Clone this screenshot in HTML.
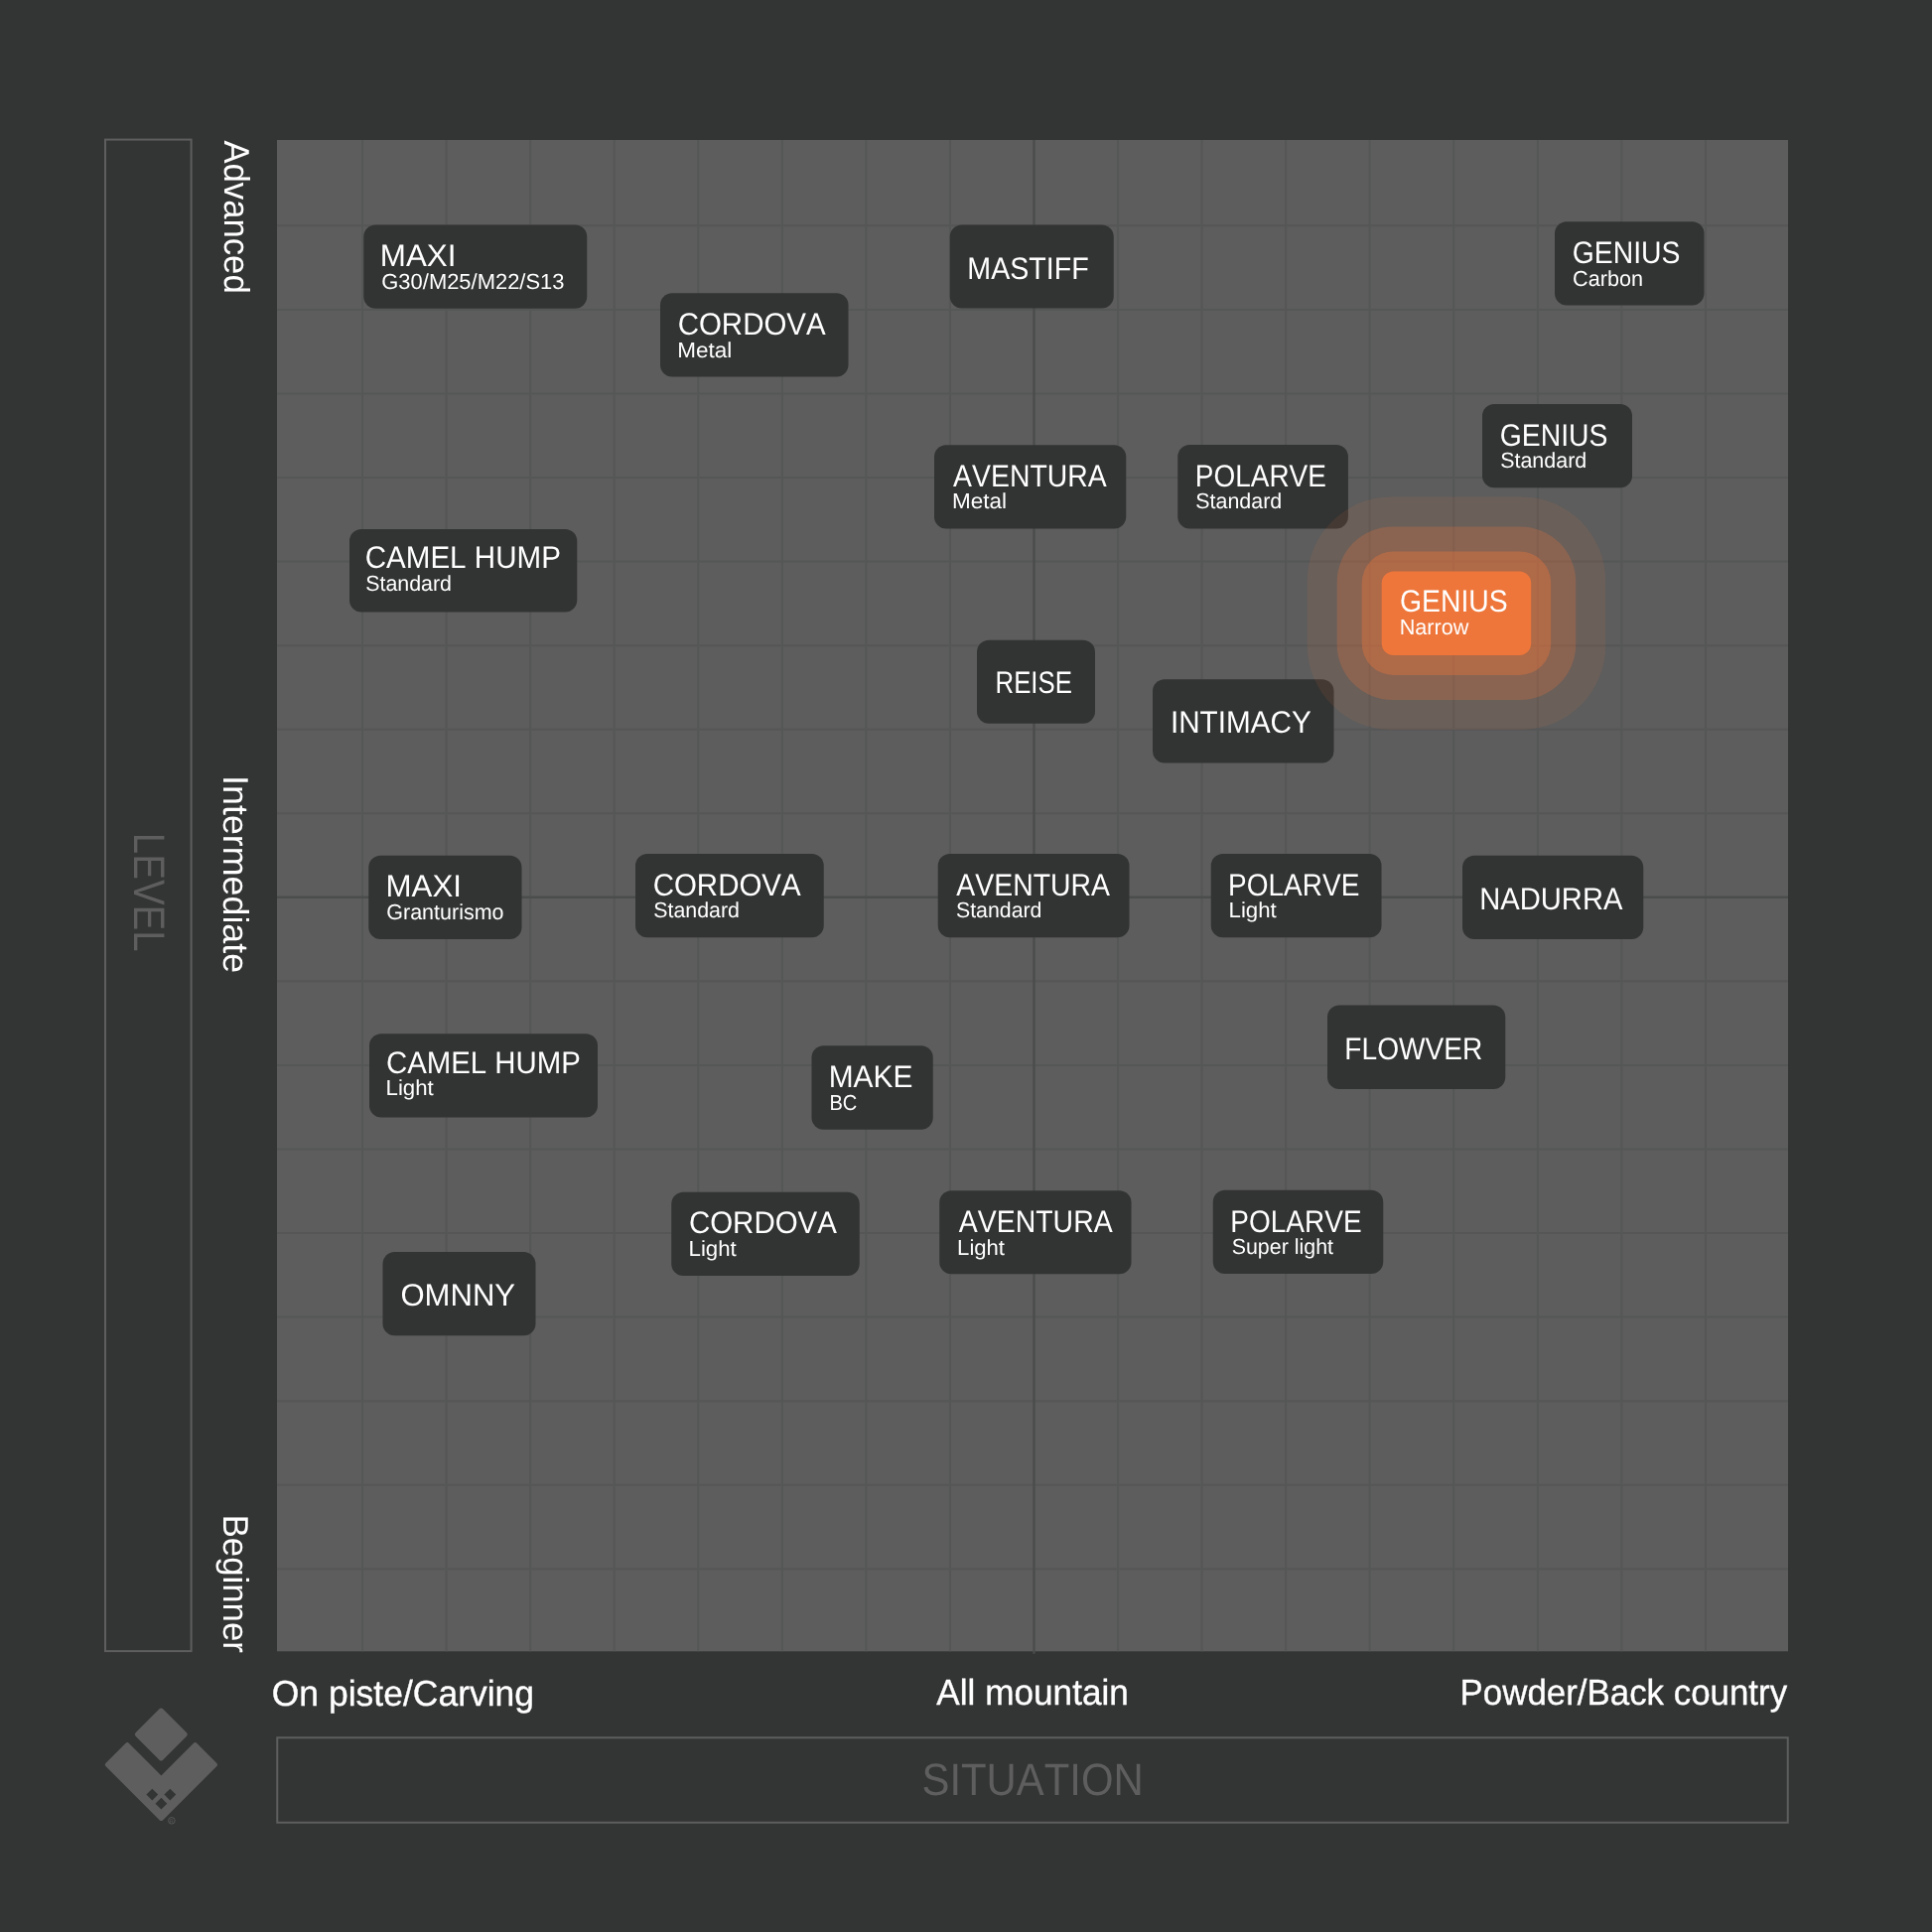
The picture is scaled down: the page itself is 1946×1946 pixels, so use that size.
<!DOCTYPE html><html><head><meta charset="utf-8"><style>html,body{margin:0;padding:0;background:#333434;overflow:hidden;width:1946px;height:1946px;}svg{display:block;}text{font-family:"Liberation Sans",sans-serif;font-kerning:none;text-rendering:geometricPrecision;}svg{will-change:transform;}</style></head><body>
<svg width="1946" height="1946" viewBox="0 0 1946 1946">
<rect x="0" y="0" width="1946" height="1946" fill="#333434"/>
<rect x="279" y="141" width="1522.00" height="1522.30" fill="#5d5d5d"/>
<path d="M365.06 141.00V1663.30M279.00 227.36H1801.00M449.61 141.00V1663.30M279.00 311.91H1801.00M534.17 141.00V1663.30M279.00 396.47H1801.00M618.72 141.00V1663.30M279.00 481.02H1801.00M703.28 141.00V1663.30M279.00 565.58H1801.00M787.83 141.00V1663.30M279.00 650.13H1801.00M872.39 141.00V1663.30M279.00 734.69H1801.00M956.94 141.00V1663.30M279.00 819.24H1801.00M1126.06 141.00V1663.30M279.00 988.36H1801.00M1210.61 141.00V1663.30M279.00 1072.91H1801.00M1295.17 141.00V1663.30M279.00 1157.47H1801.00M1379.72 141.00V1663.30M279.00 1242.02H1801.00M1464.28 141.00V1663.30M279.00 1326.58H1801.00M1548.83 141.00V1663.30M279.00 1411.13H1801.00M1633.39 141.00V1663.30M279.00 1495.69H1801.00M1717.94 141.00V1663.30M279.00 1580.24H1801.00" stroke="#555656" stroke-width="2" fill="none"/>
<path d="M1041.50 141.00V1665.80M279.00 903.80H1801.00" stroke="#4b4c4c" stroke-width="2.4" fill="none"/>
<rect x="106" y="140.6" width="86.6" height="1522.5" fill="none" stroke="#5e5e5e" stroke-width="2"/>
<rect x="279.25" y="1750.25" width="1521.5" height="85.5" fill="none" stroke="#5e5e5e" stroke-width="2"/>
<rect x="366.25" y="226.50" width="225.00" height="84.25" rx="12" fill="#323333"/>
<rect x="665.00" y="295.25" width="189.50" height="84.25" rx="12" fill="#323333"/>
<rect x="956.75" y="226.50" width="165.00" height="84.00" rx="12" fill="#323333"/>
<rect x="1566.00" y="223.25" width="150.50" height="84.25" rx="12" fill="#323333"/>
<rect x="941.00" y="448.25" width="193.25" height="84.25" rx="12" fill="#323333"/>
<rect x="1186.30" y="447.90" width="171.60" height="84.60" rx="12" fill="#323333"/>
<rect x="1493.00" y="407.00" width="151.00" height="84.25" rx="12" fill="#323333"/>
<rect x="352.00" y="533.00" width="229.25" height="83.50" rx="12" fill="#323333"/>
<rect x="984.00" y="644.75" width="119.00" height="84.00" rx="12" fill="#323333"/>
<rect x="1161.00" y="684.25" width="182.50" height="84.25" rx="12" fill="#323333"/>
<rect x="371.25" y="861.75" width="154.25" height="84.25" rx="12" fill="#323333"/>
<rect x="640.00" y="860.00" width="189.75" height="84.25" rx="12" fill="#323333"/>
<rect x="944.75" y="860.00" width="192.75" height="84.25" rx="12" fill="#323333"/>
<rect x="1219.75" y="860.00" width="171.75" height="84.25" rx="12" fill="#323333"/>
<rect x="1473.00" y="861.75" width="182.25" height="84.25" rx="12" fill="#323333"/>
<rect x="372.00" y="1041.25" width="230.00" height="84.25" rx="12" fill="#323333"/>
<rect x="817.50" y="1053.25" width="122.25" height="84.50" rx="12" fill="#323333"/>
<rect x="1337.00" y="1012.50" width="179.25" height="84.50" rx="12" fill="#323333"/>
<rect x="385.50" y="1261.00" width="154.00" height="84.25" rx="12" fill="#323333"/>
<rect x="676.25" y="1200.75" width="189.50" height="84.25" rx="12" fill="#323333"/>
<rect x="946.25" y="1199.25" width="193.25" height="84.00" rx="12" fill="#323333"/>
<rect x="1221.75" y="1198.75" width="171.50" height="84.25" rx="12" fill="#323333"/>
<rect x="1316.70" y="500.40" width="300.50" height="234.60" rx="85" fill="rgb(238,118,58)" fill-opacity="0.103"/>
<rect x="1346.70" y="530.40" width="240.50" height="174.60" rx="56" fill="rgb(238,118,58)" fill-opacity="0.238"/>
<rect x="1371.70" y="555.40" width="190.50" height="124.60" rx="32" fill="rgb(238,118,58)" fill-opacity="0.374"/>
<rect x="1391.70" y="575.40" width="150.50" height="84.60" rx="12" fill="#ee763a"/>
<text transform="translate(382.83 268.00) scale(1.0035 1)" font-size="31.25" fill="#ffffff">MAXI</text>
<text transform="translate(682.65 336.75) scale(0.9430 1)" font-size="31.25" fill="#ffffff">CORDOVA</text>
<text transform="translate(974.30 280.50) scale(0.9160 1)" font-size="31.25" fill="#ffffff">MASTIFF</text>
<text transform="translate(1583.72 265.00) scale(0.9070 1)" font-size="31.25" fill="#ffffff">GENIUS</text>
<text transform="translate(960.09 490.00) scale(0.9083 1)" font-size="31.25" fill="#ffffff">AVENTURA</text>
<text transform="translate(1203.81 489.50) scale(0.8948 1)" font-size="31.25" fill="#ffffff">POLARVE</text>
<text transform="translate(1510.72 448.75) scale(0.9070 1)" font-size="31.25" fill="#ffffff">GENIUS</text>
<text transform="translate(367.65 571.50) scale(0.9467 1)" font-size="31.25" fill="#ffffff">CAMEL HUMP</text>
<text transform="translate(1409.97 616.40) scale(0.9075 1)" font-size="31.25" fill="#ffffff">GENIUS</text>
<text transform="translate(1002.53 698.00) scale(0.8256 1)" font-size="31.25" fill="#ffffff">REISE</text>
<text transform="translate(1178.91 737.50) scale(0.9500 1)" font-size="31.25" fill="#ffffff">INTIMACY</text>
<text transform="translate(388.59 903.00) scale(0.9999 1)" font-size="31.25" fill="#ffffff">MAXI</text>
<text transform="translate(657.65 901.75) scale(0.9430 1)" font-size="31.25" fill="#ffffff">CORDOVA</text>
<text transform="translate(963.34 901.75) scale(0.9083 1)" font-size="31.25" fill="#ffffff">AVENTURA</text>
<text transform="translate(1237.10 901.75) scale(0.8955 1)" font-size="31.25" fill="#ffffff">POLARVE</text>
<text transform="translate(1490.26 916.25) scale(0.9328 1)" font-size="31.25" fill="#ffffff">NADURRA</text>
<text transform="translate(388.91 1080.75) scale(0.9406 1)" font-size="31.25" fill="#ffffff">CAMEL HUMP</text>
<text transform="translate(834.70 1095.00) scale(0.9562 1)" font-size="31.25" fill="#ffffff">MAKE</text>
<text transform="translate(1354.34 1067.00) scale(0.8999 1)" font-size="31.25" fill="#ffffff">FLOWVER</text>
<text transform="translate(403.43 1314.50) scale(0.9938 1)" font-size="31.25" fill="#ffffff">OMNNY</text>
<text transform="translate(693.90 1242.00) scale(0.9430 1)" font-size="31.25" fill="#ffffff">CORDOVA</text>
<text transform="translate(965.84 1241.25) scale(0.9097 1)" font-size="31.25" fill="#ffffff">AVENTURA</text>
<text transform="translate(1239.35 1241.25) scale(0.8955 1)" font-size="31.25" fill="#ffffff">POLARVE</text>
<text transform="translate(384.30 291.25) scale(1.0069 1)" font-size="21.80" fill="#ffffff">G30/M25/M22/S13</text>
<text transform="translate(682.30 359.50) scale(1.0326 1)" font-size="21.80" fill="#ffffff">Metal</text>
<text transform="translate(1584.05 288.00) scale(0.9922 1)" font-size="21.80" fill="#ffffff">Carbon</text>
<text transform="translate(959.05 512.00) scale(1.0326 1)" font-size="21.80" fill="#ffffff">Metal</text>
<text transform="translate(1204.23 512.00) scale(0.9838 1)" font-size="21.80" fill="#ffffff">Standard</text>
<text transform="translate(1511.18 471.25) scale(0.9838 1)" font-size="21.80" fill="#ffffff">Standard</text>
<text transform="translate(368.18 594.50) scale(0.9809 1)" font-size="21.80" fill="#ffffff">Standard</text>
<text transform="translate(1409.63 639.40) scale(0.9923 1)" font-size="21.80" fill="#ffffff">Narrow</text>
<text transform="translate(389.32 925.50) scale(0.9853 1)" font-size="21.80" fill="#ffffff">Granturismo</text>
<text transform="translate(658.18 924.25) scale(0.9809 1)" font-size="21.80" fill="#ffffff">Standard</text>
<text transform="translate(962.93 924.25) scale(0.9780 1)" font-size="21.80" fill="#ffffff">Standard</text>
<text transform="translate(1237.58 924.25) scale(1.0192 1)" font-size="21.80" fill="#ffffff">Light</text>
<text transform="translate(388.58 1103.25) scale(1.0192 1)" font-size="21.80" fill="#ffffff">Light</text>
<text transform="translate(835.50 1117.50) scale(0.9198 1)" font-size="21.80" fill="#ffffff">BC</text>
<text transform="translate(693.58 1265.00) scale(1.0192 1)" font-size="21.80" fill="#ffffff">Light</text>
<text transform="translate(964.09 1263.75) scale(1.0137 1)" font-size="21.80" fill="#ffffff">Light</text>
<text transform="translate(1240.68 1263.00) scale(0.9817 1)" font-size="21.80" fill="#ffffff">Super light</text>
<text transform="translate(273.72 1718.00) scale(0.9770 1)" font-size="36.34" fill="#ffffff" stroke="#ffffff" stroke-width="0.35" stroke-linejoin="round">On piste/Carving</text>
<text transform="translate(943.33 1717.00) scale(0.9679 1)" font-size="36.34" fill="#ffffff" stroke="#ffffff" stroke-width="0.35" stroke-linejoin="round">All mountain</text>
<text transform="translate(1470.54 1717.00) scale(0.9601 1)" font-size="36.34" fill="#ffffff" stroke="#ffffff" stroke-width="0.35" stroke-linejoin="round">Powder/Back country</text>
<text transform="translate(928.50 1807.50) scale(0.9216 1)" font-size="45.42" fill="#5e5e5e">SITUATION</text>
<text transform="translate(225.50 141.43) rotate(90) scale(0.9663 1)" font-size="35.90" fill="#ffffff">Advanced</text>
<text transform="translate(225.30 781.09) rotate(90) scale(0.9977 1)" font-size="35.90" fill="#ffffff">Intermediate</text>
<text transform="translate(225.20 1525.65) rotate(90) scale(0.9685 1)" font-size="35.90" fill="#ffffff">Beginner</text>
<text transform="translate(134.80 838.85) rotate(90) scale(0.8704 1)" font-size="44.19" fill="#5e5e5e">LEVEL</text>
<g fill="#5e5e5e" stroke="#5e5e5e" stroke-width="5" stroke-linejoin="round">
<polygon points="108.44,1777.50 128.20,1757.74 162.40,1791.94 196.60,1757.74 216.36,1777.50 162.40,1831.46"/>
<polygon points="162.30,1723.04 186.26,1747.00 162.30,1770.96 138.34,1747.00"/>
</g>
<g fill="#333434">
<polygon points="153.30,1801.70 159.20,1807.60 153.30,1813.50 147.40,1807.60"/>
<polygon points="171.30,1801.70 177.20,1807.60 171.30,1813.50 165.40,1807.60"/>
<polygon points="162.40,1810.80 168.30,1816.70 162.40,1822.60 156.50,1816.70"/>
</g>
<circle cx="172.9" cy="1833.8" r="3.3" fill="none" stroke="#5e5e5e" stroke-width="0.8"/>
<text x="170.9" y="1835.6" font-size="5" fill="#5e5e5e">R</text>
</svg></body></html>
